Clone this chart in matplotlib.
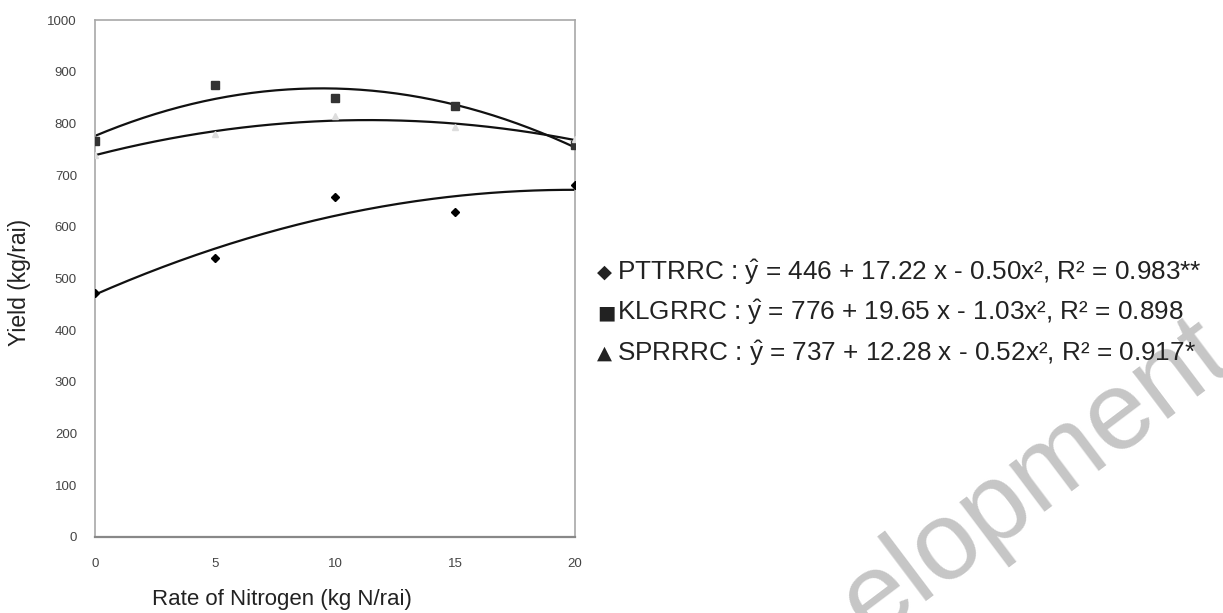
import numpy as np
import matplotlib
matplotlib.use("Agg")
import matplotlib.pyplot as plt

plt.rcParams["font.family"] = ["Liberation Sans", "DejaVu Sans"]
plt.rcParams["mathtext.fontset"] = "custom"
plt.rcParams["mathtext.rm"] = "Liberation Sans"
plt.rcParams["mathtext.it"] = "Liberation Sans:italic"

# nitrogen rates and yields (kg/rai)
nitrogen = [0, 5, 10, 15, 20]
pttrrc = [472, 540, 658, 629, 681]
klgrrc = [766, 874, 850, 834, 758]
sprrrc = [740, 780, 815, 793, 770]

legend_lines = [
    ("\u25c6", r"PTTRRC : $\hat{\mathrm{y}}$ = 446 + 17.22 x - 0.50x², R² = 0.983**"),
    ("\u25a0", r"KLGRRC : $\hat{\mathrm{y}}$ = 776 + 19.65 x - 1.03x², R² = 0.898"),
    ("\u25b2", r"SPRRRC : $\hat{\mathrm{y}}$ = 737 + 12.28 x - 0.52x², R² = 0.917*"),
]

fig = plt.figure(figsize=(12.23, 6.13), dpi=100)
ax = fig.add_axes([0.0777, 0.124, 0.3925, 0.843])

xs = np.linspace(0, 20, 200)
for vals, mk, ms, col in [(pttrrc, "D", 4.5, "black"),
                          (klgrrc, "s", 6, "#333333"),
                          (sprrrc, "^", 5, "#dddddd")]:
    coef = np.polyfit(nitrogen, vals, 2)
    ax.plot(xs, np.polyval(coef, xs), color="#111111", lw=1.6, zorder=2)
    ax.plot(nitrogen, vals, linestyle="none", marker=mk, ms=ms,
            color=col, zorder=3)

ax.set_xlim(0, 20)
ax.set_ylim(0, 1000)
ax.set_xticks([0, 5, 10, 15, 20])
ax.set_yticks(range(0, 1001, 100))
ax.tick_params(length=0, labelsize=9.5, colors="#444444")
ax.tick_params(axis="x", pad=15)
ax.tick_params(axis="y", pad=13)
for side in ["left", "right", "top"]:
    ax.spines[side].set_color("#a8a8a8")
    ax.spines[side].set_linewidth(1.2)
ax.spines["bottom"].set_color("#888888")
ax.spines["bottom"].set_linewidth(1.6)

fig.text(282 / 1223, 1 - 600 / 613, "Rate of Nitrogen (kg N/rai)",
         ha="center", va="center", fontsize=16, color="#222222")
fig.text(20 / 1223, 1 - 282 / 613, "Yield (kg/rai)", rotation=90,
         ha="center", va="center", fontsize=16.5, color="#222222")

for i, (sym, txt) in enumerate(legend_lines):
    yy = 1 - (272 + 40.5 * i) / 613
    fig.text(597 / 1223, yy, sym, family="DejaVu Sans", fontsize=14,
             ha="left", va="center", color="#222222")
    fig.text(617 / 1223, yy, txt, fontsize=18.8, ha="left", va="center",
             color="#222222")

# watermark
fig.text(870 / 1223, 1 - 640 / 613, "elopment", fontsize=80, color="#c6c6c6",
         rotation=37, rotation_mode="anchor", ha="left", va="baseline",
         zorder=0)

fig.savefig("out.png", dpi=100)
